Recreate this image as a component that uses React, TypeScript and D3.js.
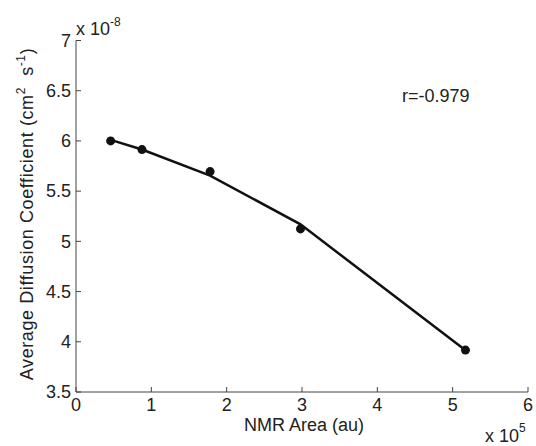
import React from "react";
import * as d3 from "d3";

const areaX = [0.46, 0.876, 1.78, 2.98, 5.17];
const diffY = [6.0, 5.914, 5.695, 5.124, 3.917];
const fitY = [6.01, 5.915, 5.655, 5.17, 3.915];
const xTicks = [0, 1, 2, 3, 4, 5, 6];
const yTicks = [3.5, 4, 4.5, 5, 5.5, 6, 6.5, 7];
const rLabel = "r=-0.979";

const W = 536, H = 446;
const L = 76, R = 528, T = 40.5, B = 392;
const FONT = "'Liberation Sans', Arial, sans-serif";
const TXT = "#222";
const FS = 18;

export default function App() {
  const x = d3.scaleLinear().domain([0, 6]).range([L, R]);
  const y = d3.scaleLinear().domain([3.5, 7]).range([B, T]);
  const line = d3.line<number>().x((_, i) => x(areaX[i])).y((d) => y(d));
  return (
    <svg width={W} height={H} style={{ position: "absolute", left: 0, top: 0 }} fontFamily={FONT}>
      <rect width={W} height={H} fill="#fff" />
      <line x1={L} y1={T} x2={L} y2={B} stroke="#444" strokeWidth={1} />
      <line x1={L} y1={B} x2={R} y2={B} stroke="#444" strokeWidth={1} />
      {yTicks.map((t) => (
        <g key={"y" + t}>
          <line x1={L} x2={L + 5} y1={y(t)} y2={y(t)} stroke="#444" />
          <text x={L - 5} y={y(t)} dy="0.35em" textAnchor="end" fontSize={FS} fill={TXT}>
            {t}
          </text>
        </g>
      ))}
      {xTicks.map((t) => (
        <g key={"x" + t}>
          <line x1={x(t)} x2={x(t)} y1={B} y2={B - 5} stroke="#444" />
          <text x={x(t)} y={411} textAnchor="middle" fontSize={FS} fill={TXT}>
            {t}
          </text>
        </g>
      ))}
      <text x={L} y={35} fontSize={FS} fill={TXT}>
        x 10<tspan dy={-9} fontSize={12}>-8</tspan>
      </text>
      <text x={485} y={442} fontSize={FS} fill={TXT}>
        x 10<tspan dy={-10} fontSize={12}>5</tspan>
      </text>
      <text x={(L + R) / 2 + 2} y={431} textAnchor="middle" fontSize={FS} fill={TXT}>
        NMR Area (au)
      </text>
      <text
        transform={`translate(33, 214) rotate(-90)`}
        textAnchor="middle"
        fontSize={FS}
        fill={TXT}
        letterSpacing={0.6}
      >
        Average Diffusion Coefficient (cm<tspan dy={-8} fontSize={12}>2</tspan>
        <tspan dy={8}>{"\u00a0 s"}</tspan>
        <tspan dy={-8} fontSize={12}>-1</tspan>
        <tspan dy={8}>)</tspan>
      </text>
      <text x={402} y={102} fontSize={FS} fill={TXT}>
        {rLabel}
      </text>
      <path d={line(fitY) || ""} fill="none" stroke="#111" strokeWidth={2.5} />
      {diffY.map((v, i) => (
        <circle key={i} cx={x(areaX[i])} cy={y(v)} r={4.5} fill="#111" />
      ))}
    </svg>
  );
}
